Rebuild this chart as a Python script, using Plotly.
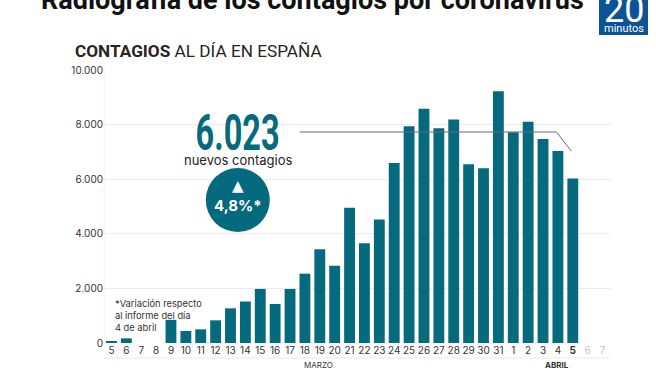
import plotly.graph_objects as go

days = ["5","6","7","8","9","10","11","12","13","14","15","16","17","18","19","20","21","22","23","24","25","26","27","28","29","30","31","1","2","3","4","<b>5</b>","<span style='color:#c4c4c4'>6</span>","<span style='color:#c4c4c4'>7</span>"]
values = [50,170,0,0,850,440,500,830,1270,1520,1980,1430,1980,2540,3430,2830,4950,3650,4520,6590,7940,8580,7870,8190,6550,6400,9220,7720,8100,7470,7030,6023,0,0]
y_ticks = [0,2000,4000,6000,8000,10000]
y_labels = ["0","2.000","4.000","6.000","8.000","10.000"]
callout_x = [12.65,29.9,30.9]
callout_y = [7730,7730,7030]

W,H = 656,370
L,R,T,B = 104.3,46,70,27
TEAL = "#056a7e"
def px(x): return (x-L)/(W-L-R)
def py(y): return 1-(y-T)/(H-T-B)

fig = go.Figure(go.Bar(x=list(range(len(days))), y=values, marker_color=TEAL, marker_line_width=0, width=0.73))

shapes = [
 dict(type="path", xref="x", yref="y", layer="above",
      path="M %s %s L %s %s L %s %s"%(callout_x[0],callout_y[0],callout_x[1],callout_y[1],callout_x[2],callout_y[2]),
      line=dict(color="#6f6a68", width=1)),
 dict(type="line", xref="paper", yref="paper", x0=px(104), x1=px(610), y0=py(358), y1=py(358), line=dict(color="#e8e8e8", width=1)),
 dict(type="line", xref="paper", yref="paper", x0=px(104.5), x1=px(104.5), y0=py(70), y1=py(343), line=dict(color="#f2f2f2", width=1)),
 dict(type="circle", xref="paper", yref="paper", x0=px(206), x1=px(270), y0=py(168), y1=py(232), fillcolor=TEAL, line_width=0, layer="above"),
 dict(type="rect", xref="paper", yref="paper", x0=px(599), x1=px(648), y0=py(-2), y1=py(35), fillcolor="#0b5394", line_width=0),
]

def note(text,x,y,size,color="#222",font="Inter",anchor="center"):
    return dict(text=text, xref="paper", yref="paper", x=px(x), y=py(y), xanchor=anchor, yanchor="middle", align=anchor,
                showarrow=False, font=dict(family=font,size=size,color=color))

ann = [
 note("<b>Radiografía de los contagios por coronavirus</b>",313,0,27,"#111","Roboto"),
 note("<b>CONTAGIOS</b> AL DÍA EN ESPAÑA",73,51,17.2,"#2a2320","Roboto","left"),
 note("<b>6.023</b>",238,133,50,TEAL,"Roboto"),
 note("nuevos contagios",238,160,13,"#222","Inter"),
 note("▲",238,186,15,"white","DejaVu Sans"),
 note("<b>4,8%*</b>",238,205,15,"white","Inter"),
 note("*Variación respecto<br>al informe del día<br>4 de abril",113,315.5,9.3,"#333","Inter","left"),
 note("MARZO",319,365,8,"#333","Inter"),
 note("<b>ABRIL</b>",557,365,8,"#333","Inter"),
 note("20",623.5,10,36,"white","Roboto"),
 note("minutos",623.5,28,11,"white","Roboto"),
]

fig.update_layout(width=W,height=H,margin=dict(l=L,r=R,t=T,b=B,autoexpand=False),
    plot_bgcolor="white",paper_bgcolor="white",showlegend=False,shapes=shapes,annotations=ann)
fig.update_xaxes(range=[-0.5,33.5],tickmode="array",tickvals=list(range(len(days))),ticktext=days,
    showgrid=False,zeroline=False,showline=False,ticks="",tickangle=0,tickfont=dict(family="Inter",size=10,color="#333"))
fig.update_yaxes(range=[0,10000],tickmode="array",tickvals=y_ticks,ticktext=y_labels,showgrid=True,gridcolor="#ececec",
    gridwidth=1,zeroline=False,showline=False,ticks="",tickfont=dict(family="Inter",size=10,color="#333"))

post = """
document.body.style.margin='0';document.body.style.overflow='hidden';
document.querySelectorAll('.annotation-text').forEach(function(t){
  if(t.textContent==='6.023'){var b=t.getBBox();var c=b.x+b.width/2;
    t.setAttribute('transform','translate('+c+',0) scale(0.65,1) translate('+(-c)+',0)');}
});
"""
fig.write_html("out.html", config=dict(displayModeBar=False), post_script=post)
